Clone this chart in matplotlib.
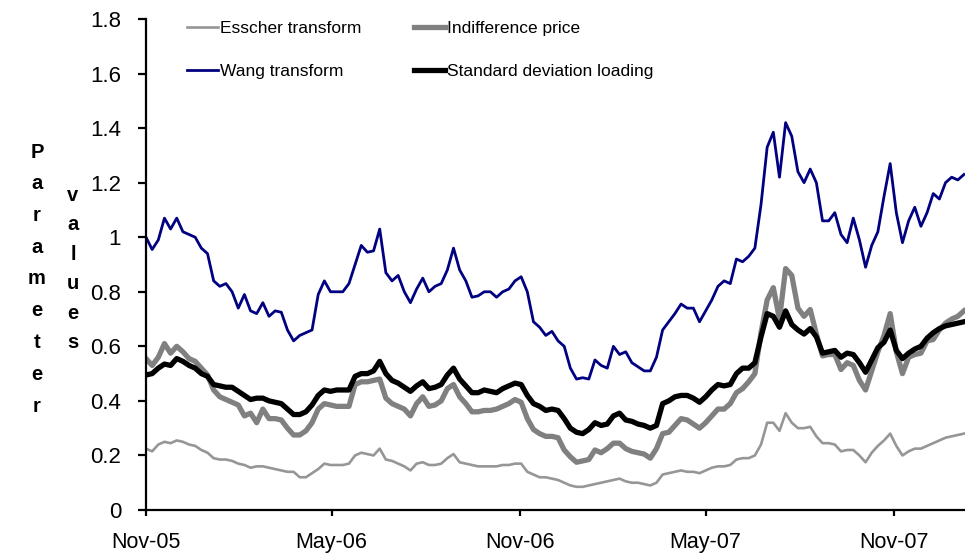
import matplotlib
matplotlib.use("Agg")
import matplotlib.pyplot as plt
import matplotlib.dates as mdates
import pandas as pd

start = "2005-11-01"

esscher = [
    0.225, 0.215, 0.24, 0.25, 0.245, 0.255, 0.25, 0.24, 0.235, 0.22,
    0.21, 0.19, 0.185, 0.185, 0.18, 0.17, 0.165, 0.155, 0.16, 0.16,
    0.155, 0.15, 0.145, 0.14, 0.14, 0.12, 0.12, 0.135, 0.15, 0.17,
    0.165, 0.165, 0.165, 0.17, 0.20, 0.21, 0.205, 0.20, 0.225, 0.185,
    0.18, 0.17, 0.16, 0.145, 0.17, 0.175, 0.165, 0.165, 0.17, 0.19,
    0.205, 0.175, 0.17, 0.165, 0.16, 0.16, 0.16, 0.16, 0.165, 0.165,
    0.17, 0.17, 0.14, 0.13, 0.12, 0.12, 0.115, 0.11, 0.10, 0.09,
    0.085, 0.085, 0.09, 0.095, 0.10, 0.105, 0.11, 0.115, 0.105, 0.10,
    0.10, 0.095, 0.09, 0.10, 0.13, 0.135, 0.14, 0.145, 0.14, 0.14,
    0.135, 0.145, 0.155, 0.16, 0.16, 0.165, 0.185, 0.19, 0.19, 0.20,
    0.24, 0.32, 0.32, 0.29, 0.355, 0.32, 0.30, 0.30, 0.305, 0.27,
    0.245, 0.245, 0.24, 0.215, 0.22, 0.22, 0.20, 0.175, 0.21, 0.235,
    0.255, 0.28, 0.235, 0.20, 0.215, 0.225, 0.225, 0.235, 0.245, 0.255,
    0.265, 0.27, 0.275, 0.28,
]

indifference = [
    0.555, 0.53, 0.56, 0.61, 0.575, 0.60, 0.58, 0.555, 0.545, 0.52,
    0.495, 0.44, 0.415, 0.405, 0.395, 0.385, 0.345, 0.355, 0.32, 0.37,
    0.335, 0.335, 0.33, 0.30, 0.275, 0.275, 0.29, 0.32, 0.37, 0.39,
    0.385, 0.38, 0.38, 0.38, 0.46, 0.47, 0.47, 0.475, 0.48, 0.41,
    0.39, 0.38, 0.37, 0.345, 0.39, 0.415, 0.38, 0.385, 0.40, 0.445,
    0.46, 0.415, 0.39, 0.36, 0.36, 0.365, 0.365, 0.37, 0.38, 0.39,
    0.405, 0.395, 0.335, 0.295, 0.28, 0.27, 0.27, 0.265, 0.22, 0.195,
    0.175, 0.18, 0.185, 0.22, 0.21, 0.225, 0.245, 0.245, 0.225, 0.215,
    0.21, 0.205, 0.19, 0.225, 0.28, 0.285, 0.31, 0.335, 0.33, 0.315,
    0.30, 0.32, 0.345, 0.37, 0.37, 0.39, 0.43, 0.445, 0.47, 0.50,
    0.65, 0.77, 0.815, 0.70, 0.885, 0.86, 0.74, 0.71, 0.735, 0.645,
    0.565, 0.57, 0.57, 0.515, 0.54, 0.53, 0.475, 0.44, 0.51, 0.58,
    0.64, 0.72, 0.58, 0.50, 0.56, 0.57, 0.575, 0.62, 0.625, 0.66,
    0.685, 0.70, 0.71, 0.73,
]

wang = [
    1.00, 0.955, 0.99, 1.07, 1.03, 1.07, 1.02, 1.01, 1.00, 0.96,
    0.94, 0.84, 0.82, 0.83, 0.80, 0.74, 0.79, 0.73, 0.72, 0.76,
    0.71, 0.73, 0.725, 0.66, 0.62, 0.64, 0.65, 0.66, 0.79, 0.84,
    0.80, 0.80, 0.80, 0.83, 0.90, 0.97, 0.945, 0.95, 1.03, 0.87,
    0.84, 0.86, 0.80, 0.76, 0.81, 0.85, 0.80, 0.82, 0.83, 0.88,
    0.96, 0.88, 0.84, 0.78, 0.785, 0.80, 0.80, 0.78, 0.80, 0.81,
    0.84, 0.855, 0.80, 0.69, 0.67, 0.64, 0.655, 0.62, 0.60, 0.52,
    0.48, 0.485, 0.48, 0.55, 0.53, 0.52, 0.60, 0.57, 0.58, 0.54,
    0.525, 0.51, 0.51, 0.56, 0.66, 0.69, 0.72, 0.755, 0.74, 0.74,
    0.69, 0.73, 0.77, 0.82, 0.84, 0.83, 0.92, 0.91, 0.93, 0.96,
    1.12, 1.33, 1.385, 1.22, 1.42, 1.37, 1.24, 1.20, 1.25, 1.20,
    1.06, 1.06, 1.09, 1.01, 0.98, 1.07, 0.99, 0.89, 0.97, 1.02,
    1.15, 1.27, 1.09, 0.98, 1.06, 1.11, 1.04, 1.09, 1.16, 1.14,
    1.20, 1.22, 1.21, 1.23,
]

sd_loading = [
    0.495, 0.50, 0.52, 0.535, 0.53, 0.555, 0.545, 0.53, 0.52, 0.50,
    0.49, 0.46, 0.455, 0.45, 0.45, 0.435, 0.42, 0.405, 0.41, 0.41,
    0.40, 0.395, 0.39, 0.37, 0.35, 0.35, 0.36, 0.385, 0.42, 0.44,
    0.435, 0.44, 0.44, 0.44, 0.49, 0.50, 0.50, 0.51, 0.545, 0.50,
    0.475, 0.465, 0.45, 0.435, 0.455, 0.47, 0.445, 0.45, 0.46, 0.495,
    0.52, 0.48, 0.455, 0.43, 0.43, 0.44, 0.435, 0.43, 0.445, 0.455,
    0.465, 0.46, 0.42, 0.39, 0.38, 0.365, 0.37, 0.365, 0.335, 0.30,
    0.285, 0.28, 0.295, 0.32, 0.31, 0.315, 0.345, 0.355, 0.33, 0.325,
    0.315, 0.31, 0.30, 0.31, 0.39, 0.40, 0.415, 0.42, 0.42, 0.41,
    0.395, 0.415, 0.44, 0.46, 0.455, 0.46, 0.50, 0.52, 0.52, 0.54,
    0.635, 0.72, 0.71, 0.67, 0.73, 0.68, 0.66, 0.645, 0.665, 0.635,
    0.575, 0.58, 0.585, 0.56, 0.575, 0.57, 0.54, 0.505, 0.55, 0.595,
    0.615, 0.66, 0.585, 0.555, 0.575, 0.59, 0.60, 0.63, 0.65, 0.665,
    0.675, 0.68, 0.685, 0.69,
]

dates = pd.date_range(start, periods=len(wang), freq="6D")
tick_dates = pd.to_datetime(["2005-11-01", "2006-05-01", "2006-11-01",
                             "2007-05-01", "2007-11-01"])
y_ticks = [0, 0.2, 0.4, 0.6, 0.8, 1.0, 1.2, 1.4, 1.6, 1.8]
y_labels = ["0", "0.2", "0.4", "0.6", "0.8", "1", "1.2", "1.4", "1.6", "1.8"]

plt.rcParams['font.family'] = ['Liberation Sans', 'DejaVu Sans']

W, H = 965, 557
fig = plt.figure(figsize=(W / 100, H / 100), dpi=100)
ax = fig.add_axes([146 / W, 1 - 510 / H, 1 - 146 / W, (510 - 19) / H])

l_ess, = ax.plot(dates, esscher, color='#969696', lw=1.9, label='Esscher transform')
l_ind, = ax.plot(dates, indifference, color='#808080', lw=3.8, label='Indifference price')
l_wang, = ax.plot(dates, wang, color='#000080', lw=2.0, label='Wang transform')
l_sd, = ax.plot(dates, sd_loading, color='black', lw=3.8, label='Standard deviation loading')

ax.set_xlim(pd.Timestamp(start), pd.Timestamp(start) + pd.Timedelta(days=799))
ax.set_ylim(0, 1.8)
ax.set_xticks(tick_dates)
ax.xaxis.set_major_formatter(mdates.DateFormatter('%b-%y'))
ax.set_yticks(y_ticks)
ax.set_yticklabels(y_labels)

for side in ['top', 'right']:
    ax.spines[side].set_visible(False)
for side in ['left', 'bottom']:
    ax.spines[side].set_linewidth(1.6)
ax.tick_params(axis='y', direction='out', length=6, width=1.6, pad=12, labelsize=16)
ax.tick_params(axis='x', direction='out', length=4, width=1.6, pad=12, labelsize=15.5)

leg = fig.legend(handles=[l_ess, l_wang, l_ind, l_sd], ncol=2, frameon=False,
                 loc='upper left', bbox_to_anchor=(187 / W, 1 - 21 / H),
                 borderpad=0, borderaxespad=0, handlelength=1.8, handletextpad=0.12,
                 columnspacing=3.0, labelspacing=1.6,
                 prop={'size': 12.5})

fig.text(37 / W, 1 - 279 / H, "\n".join("Parameter"), ha='center', va='center',
         multialignment='center', fontsize=14.5, fontweight='bold', linespacing=1.85)
fig.text(73 / W, 1 - 269 / H, "\n".join("values"), ha='center', va='center',
         multialignment='center', fontsize=14.5, fontweight='bold', linespacing=1.7)

fig.savefig("out.png", dpi=100)
